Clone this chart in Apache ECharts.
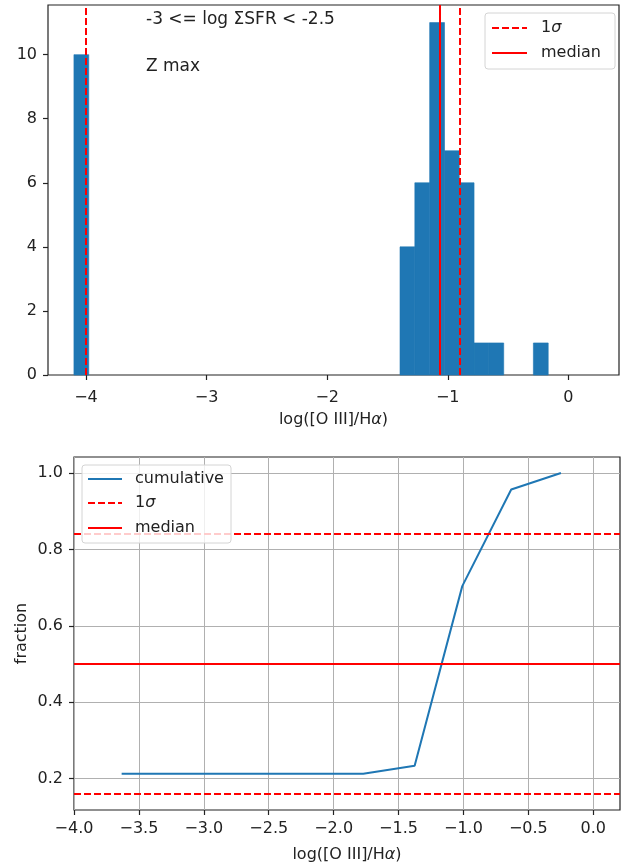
<!DOCTYPE html>
<html>
<head>
<meta charset="utf-8">
<script src="https://cdn.jsdelivr.net/npm/echarts@6/dist/echarts.min.js"></script>
<style>
  html, body { margin: 0; padding: 0; background: #ffffff; }
  #chart { width: 632px; height: 864px; }
</style>
</head>
<body>
<div id="chart"></div>
<script>
// Histogram of log([O III]/Hα), non-empty bins only (left edge, right edge, count)
const histLeft  = [-4.100, -1.396, -1.273, -1.150, -1.027, -0.905, -0.782, -0.659, -0.290];
const histRight = [-3.977, -1.273, -1.150, -1.027, -0.905, -0.782, -0.659, -0.536, -0.167];
const histCount = [10, 4, 6, 11, 7, 6, 1, 1, 1];

// Percentile markers of the distribution
const sigmaLines = [-4.0, -0.9];
const medianLine = -1.07;

// Cumulative fraction curve
const cumX = [-3.633, -1.772, -1.376, -1.009, -0.632, -0.249];
const cumY = [0.213, 0.213, 0.234, 0.704, 0.957, 1.0];
const sigmaFractions = [0.16, 0.84];
const medianFraction = 0.5;

// Tick values
const topXTicks = [-4, -3, -2, -1, 0];
const topYTicks = [0, 2, 4, 6, 8, 10];
const botXTicks = [-4.0, -3.5, -3.0, -2.5, -2.0, -1.5, -1.0, -0.5, 0.0];
const botYTicks = [0.2, 0.4, 0.6, 0.8, 1.0];

const FONT = 'DejaVu Sans';
const INK = '#222222';
const BLUE = '#1f77b4';
const RED = '#ff0000';
const DASH = [7, 3];

const fmtMinus = (v, d) => {
  const s = d === undefined ? String(v) : Number(v).toFixed(d);
  return s.replace('-', '\u2212');
};

const labelStyle = { fontFamily: FONT, fontSize: 16, color: INK };
const italicRich = { i: { fontFamily: FONT, fontSize: 16, fontStyle: 'italic', color: INK } };

const histData = histLeft.map((l, i) => [l, histRight[i], histCount[i]]);
const cumData = cumX.map((x, i) => [x, cumY[i]]);

const chart = echarts.init(document.getElementById('chart'), null, { renderer: 'canvas' });

chart.setOption({
  animation: false,
  backgroundColor: '#ffffff',
  grid: [
    { left: 48, top: 5, width: 571, height: 370, show: true, borderColor: INK, borderWidth: 1.2, backgroundColor: 'transparent', containLabel: false },
    { left: 74, top: 457, width: 546, height: 354, show: true, borderColor: INK, borderWidth: 1.2, backgroundColor: 'transparent', containLabel: false }
  ],
  xAxis: [
    {
      type: 'value', gridIndex: 0, min: -4.315, max: 0.42,
      axisLine: { show: false, onZero: false },
      axisTick: { show: true, length: 5, lineStyle: { color: INK, width: 1.2 }, customValues: topXTicks },
      axisLabel: Object.assign({ margin: 15, customValues: topXTicks, formatter: v => fmtMinus(v) }, labelStyle),
      splitLine: { show: false },
      name: 'log([O III]/H{i|α})', nameLocation: 'middle', nameGap: 37,
      nameTextStyle: Object.assign({ rich: italicRich }, labelStyle)
    },
    {
      type: 'value', gridIndex: 1, min: -4.0, max: 0.206,
      axisLine: { show: false, onZero: false },
      axisTick: { show: true, length: 5, lineStyle: { color: INK, width: 1.2 }, customValues: botXTicks },
      axisLabel: Object.assign({ margin: 11, customValues: botXTicks, formatter: v => fmtMinus(v, 1) }, labelStyle),
      splitLine: { show: true, lineStyle: { color: '#b0b0b0', width: 1 } },
      name: 'log([O III]/H{i|α})', nameLocation: 'middle', nameGap: 37,
      nameTextStyle: Object.assign({ rich: italicRich }, labelStyle)
    }
  ],
  yAxis: [
    {
      type: 'value', gridIndex: 0, min: 0, max: 11.55,
      axisLine: { show: false, onZero: false },
      axisTick: { show: true, length: 5, lineStyle: { color: INK, width: 1.2 }, customValues: topYTicks },
      axisLabel: Object.assign({ margin: 11, customValues: topYTicks }, labelStyle),
      splitLine: { show: false }
    },
    {
      type: 'value', gridIndex: 1, min: 0.118, max: 1.042,
      axisLine: { show: false, onZero: false },
      axisTick: { show: true, length: 5, lineStyle: { color: INK, width: 1.2 }, customValues: botYTicks },
      axisLabel: Object.assign({ margin: 11, customValues: botYTicks, formatter: v => Number(v).toFixed(1) }, labelStyle),
      splitLine: { show: true, lineStyle: { color: '#b0b0b0', width: 1 } },
      name: 'fraction', nameLocation: 'middle', nameGap: 44, nameRotate: 90, nameMoveOverlap: false,
      nameTextStyle: labelStyle
    }
  ],
  series: [
    {
      name: 'histogram', type: 'custom', xAxisIndex: 0, yAxisIndex: 0,
      data: histData,
      encode: { x: [0, 1], y: 2 },
      renderItem: (params, api) => {
        const top = api.coord([api.value(0), api.value(2)]);
        const base = api.coord([api.value(1), 0]);
        return {
          type: 'rect',
          shape: { x: top[0], y: top[1], width: base[0] - top[0], height: base[1] - top[1] },
          style: { fill: BLUE, stroke: BLUE, lineWidth: 0.6 }
        };
      },
      z: 2
    },
    {
      name: '1σ', type: 'line', xAxisIndex: 0, yAxisIndex: 0, data: [], z: 5,
      markLine: {
        silent: true, symbol: ['none', 'none'], label: { show: false },
        lineStyle: { color: RED, width: 2, type: DASH },
        data: sigmaLines.map(v => ({ xAxis: v }))
      }
    },
    {
      name: 'median', type: 'line', xAxisIndex: 0, yAxisIndex: 0, data: [], z: 5,
      markLine: {
        silent: true, symbol: ['none', 'none'], label: { show: false },
        lineStyle: { color: RED, width: 2, type: 'solid' },
        data: [{ xAxis: medianLine }]
      }
    },
    {
      name: 'cumulative', type: 'line', xAxisIndex: 1, yAxisIndex: 1,
      data: cumData, showSymbol: false, symbol: 'none',
      lineStyle: { color: BLUE, width: 2 }, z: 4
    },
    {
      name: '1σ', type: 'line', xAxisIndex: 1, yAxisIndex: 1, data: [], z: 5,
      markLine: {
        silent: true, symbol: ['none', 'none'], label: { show: false },
        lineStyle: { color: RED, width: 2, type: DASH },
        data: sigmaFractions.map(v => ({ yAxis: v }))
      }
    },
    {
      name: 'median', type: 'line', xAxisIndex: 1, yAxisIndex: 1, data: [], z: 5,
      markLine: {
        silent: true, symbol: ['none', 'none'], label: { show: false },
        lineStyle: { color: RED, width: 2, type: 'solid' },
        data: [{ yAxis: medianFraction }]
      }
    }
  ],
  graphic: [
    // panel annotations
    { type: 'text', left: 146, top: 11, z: 50, style: { text: '-3 <= log ΣSFR < -2.5', font: '17px "DejaVu Sans"', fill: INK } },
    { type: 'text', left: 146, top: 58, z: 50, style: { text: 'Z max', font: '17px "DejaVu Sans"', fill: INK } },

    // legend, upper panel
    { type: 'rect', z: 60, shape: { x: 485, y: 13, width: 130, height: 56, r: 3 }, style: { fill: 'rgba(255,255,255,0.8)', stroke: '#d4d4d4', lineWidth: 1 } },
    { type: 'line', z: 61, shape: { x1: 492, y1: 28, x2: 527, y2: 28 }, style: { stroke: RED, lineWidth: 2, lineDash: DASH } },
    { type: 'line', z: 61, shape: { x1: 492, y1: 53, x2: 527, y2: 53 }, style: { stroke: RED, lineWidth: 2 } },
    { type: 'text', z: 61, x: 541, y: 28, style: { text: '1{i|σ}', font: '16px "DejaVu Sans"', fill: INK, verticalAlign: 'middle', rich: italicRich } },
    { type: 'text', z: 61, x: 541, y: 53, style: { text: 'median', font: '16px "DejaVu Sans"', fill: INK, verticalAlign: 'middle' } },

    // legend, lower panel
    { type: 'rect', z: 60, shape: { x: 82, y: 465, width: 149, height: 78, r: 3 }, style: { fill: 'rgba(255,255,255,0.8)', stroke: '#d4d4d4', lineWidth: 1 } },
    { type: 'line', z: 61, shape: { x1: 88, y1: 479, x2: 122, y2: 479 }, style: { stroke: BLUE, lineWidth: 2 } },
    { type: 'line', z: 61, shape: { x1: 88, y1: 503, x2: 122, y2: 503 }, style: { stroke: RED, lineWidth: 2, lineDash: DASH } },
    { type: 'line', z: 61, shape: { x1: 88, y1: 528, x2: 122, y2: 528 }, style: { stroke: RED, lineWidth: 2 } },
    { type: 'text', z: 61, x: 135, y: 479, style: { text: 'cumulative', font: '16px "DejaVu Sans"', fill: INK, verticalAlign: 'middle' } },
    { type: 'text', z: 61, x: 135, y: 503, style: { text: '1{i|σ}', font: '16px "DejaVu Sans"', fill: INK, verticalAlign: 'middle', rich: italicRich } },
    { type: 'text', z: 61, x: 135, y: 528, style: { text: 'median', font: '16px "DejaVu Sans"', fill: INK, verticalAlign: 'middle' } }
  ]
});
</script>
</body>
</html>
